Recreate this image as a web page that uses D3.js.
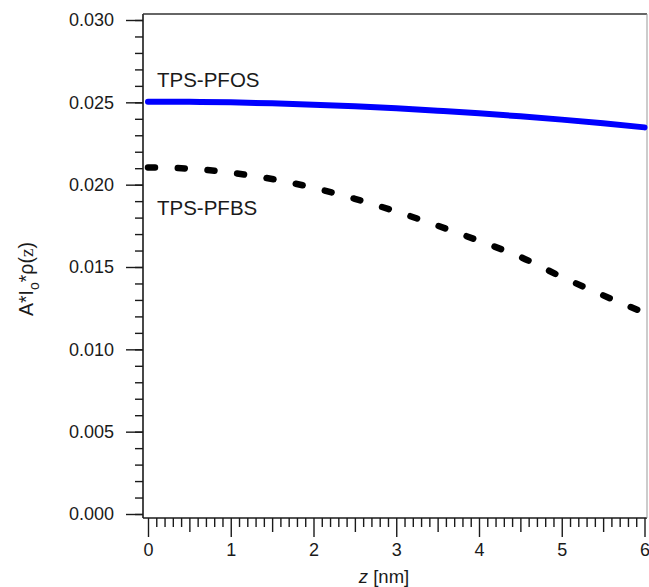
<!DOCTYPE html>
<html>
<head>
<meta charset="utf-8">
<script src="https://cdn.jsdelivr.net/npm/d3@7"></script>
<style>
  body { margin: 0; background: #fff; }
  svg { display: block; }
</style>
</head>
<body>
<script>
// values
const zValues    = [0, 0.5, 1, 1.5, 2, 2.5, 3, 3.5, 4, 4.5, 5, 5.5, 6];
const pfosValues = [0.02504, 0.02503, 0.02500, 0.02494, 0.02486, 0.02476, 0.02464,
                    0.02449, 0.02433, 0.02415, 0.02395, 0.02373, 0.02348];
const pfbsValues = [0.02105, 0.02097, 0.02073, 0.02034, 0.01981, 0.01914, 0.01837,
                    0.01751, 0.01659, 0.01561, 0.01440, 0.01328, 0.01222];
const seriesNames = ["TPS-PFOS", "TPS-PFBS"];
const xTicks = [0, 1, 2, 3, 4, 5, 6];
const yTicks = [0.000, 0.005, 0.010, 0.015, 0.020, 0.025, 0.030];

const chart = {
    width: 649,
    height: 587,
    frame: {left: 143, right: 647, top: 14, bottom: 518},
    font: "'Liberation Sans', Arial, Helvetica, sans-serif",
    ink: "#1a1a1a"
};

const svg = d3.select("body")
    .append("svg")
      .attr("width", chart.width)
      .attr("height", chart.height);

// scales
const x = d3.scaleLinear().domain([0, 6]).range([148, 644.5]);
const y = d3.scaleLinear().domain([0, 0.030]).range([514, 20]);

// y axis: minor ticks then major ticks with labels
const yMinor = d3.range(0, 0.0305, 0.001);
svg.append("g")
    .attr("transform", `translate(${chart.frame.left},0)`)
    .call(d3.axisLeft(y).tickValues(yMinor).tickSize(8).tickFormat(""))
    .call(g => g.select(".domain").remove());

svg.append("g")
    .attr("class", "y-axis")
    .attr("transform", `translate(${chart.frame.left},0)`)
    .call(d3.axisLeft(y).tickValues(yTicks).tickSize(17).tickPadding(12).tickFormat(d3.format(".3f")))
    .call(g => g.select(".domain").remove());

// x axis: minor, half and major ticks
const xMinor = d3.range(0, 6.05, 0.1).filter(v => Math.abs(v * 2 - Math.round(v * 2)) > 0.01);
const xHalf = [0.5, 1.5, 2.5, 3.5, 4.5, 5.5];
const xAxisY = chart.frame.bottom;
svg.append("g")
    .attr("transform", `translate(0,${xAxisY})`)
    .call(d3.axisBottom(x).tickValues(xMinor).tickSize(9).tickFormat(""))
    .call(g => g.select(".domain").remove());
svg.append("g")
    .attr("transform", `translate(0,${xAxisY})`)
    .call(d3.axisBottom(x).tickValues(xHalf).tickSize(14).tickFormat(""))
    .call(g => g.select(".domain").remove());
svg.append("g")
    .attr("class", "x-axis")
    .attr("transform", `translate(0,${xAxisY})`)
    .call(d3.axisBottom(x).tickValues(xTicks).tickSize(19).tickPadding(6).tickFormat(d3.format("d")))
    .call(g => g.select(".domain").remove());

svg.selectAll(".tick line")
    .attr("stroke", chart.ink)
    .attr("stroke-width", 1.4);
svg.selectAll(".tick text")
    .attr("fill", chart.ink)
    .attr("font-family", chart.font)
    .attr("font-size", 18);

// frame
const f = chart.frame;
svg.append("line").attr("x1", f.left).attr("x2", f.left).attr("y1", f.top).attr("y2", f.bottom)
    .attr("stroke", chart.ink).attr("stroke-width", 1.6);
svg.append("line").attr("x1", f.left).attr("x2", f.right).attr("y1", f.bottom).attr("y2", f.bottom)
    .attr("stroke", chart.ink).attr("stroke-width", 1.6);
svg.append("line").attr("x1", f.left).attr("x2", f.right).attr("y1", f.top).attr("y2", f.top)
    .attr("stroke", "#333").attr("stroke-width", 1.3);
svg.append("line").attr("x1", f.right).attr("x2", f.right).attr("y1", f.top).attr("y2", f.bottom)
    .attr("stroke", "#999").attr("stroke-width", 1);

// curves
const line = d3.line()
    .x(d => x(d[0]))
    .y(d => y(d[1]))
    .curve(d3.curveMonotoneX);

svg.append("path")
    .attr("d", line(d3.zip(zValues, pfosValues)))
    .attr("fill", "none")
    .attr("stroke", "#0000ff")
    .attr("stroke-width", 6)
    .attr("stroke-linecap", "round");

svg.append("path")
    .attr("d", line(d3.zip(zValues, pfbsValues)))
    .attr("fill", "none")
    .attr("stroke", "#000")
    .attr("stroke-width", 6.5)
    .attr("stroke-linecap", "round")
    .attr("stroke-dasharray", "7,22.8");

// series labels
svg.append("text")
    .attr("x", 157).attr("y", 87)
    .attr("font-family", chart.font).attr("font-size", 20.5)
    .attr("fill", chart.ink)
    .text(seriesNames[0]);
svg.append("text")
    .attr("x", 157).attr("y", 215)
    .attr("font-family", chart.font).attr("font-size", 20.5)
    .attr("fill", chart.ink)
    .text(seriesNames[1]);

// axis titles
const xTitle = svg.append("text")
    .attr("x", 384).attr("y", 583)
    .attr("text-anchor", "middle")
    .attr("font-family", chart.font).attr("font-size", 18.5)
    .attr("fill", chart.ink);
xTitle.append("tspan").attr("font-style", "italic").text("z");
xTitle.append("tspan").text(" [nm]");

const yTitle = svg.append("text")
    .attr("transform", "translate(33,279) rotate(-90)")
    .attr("text-anchor", "middle")
    .attr("font-family", chart.font).attr("font-size", 19.5)
    .attr("fill", chart.ink);
yTitle.append("tspan").text("A*I");
yTitle.append("tspan").attr("font-size", 14).attr("dy", 6).text("o");
yTitle.append("tspan").attr("dy", -6).text("*ρ(");
yTitle.append("tspan").attr("font-family", "'Liberation Serif', 'Times New Roman', serif").text("z");
yTitle.append("tspan").text(")");
</script>
</body>
</html>
